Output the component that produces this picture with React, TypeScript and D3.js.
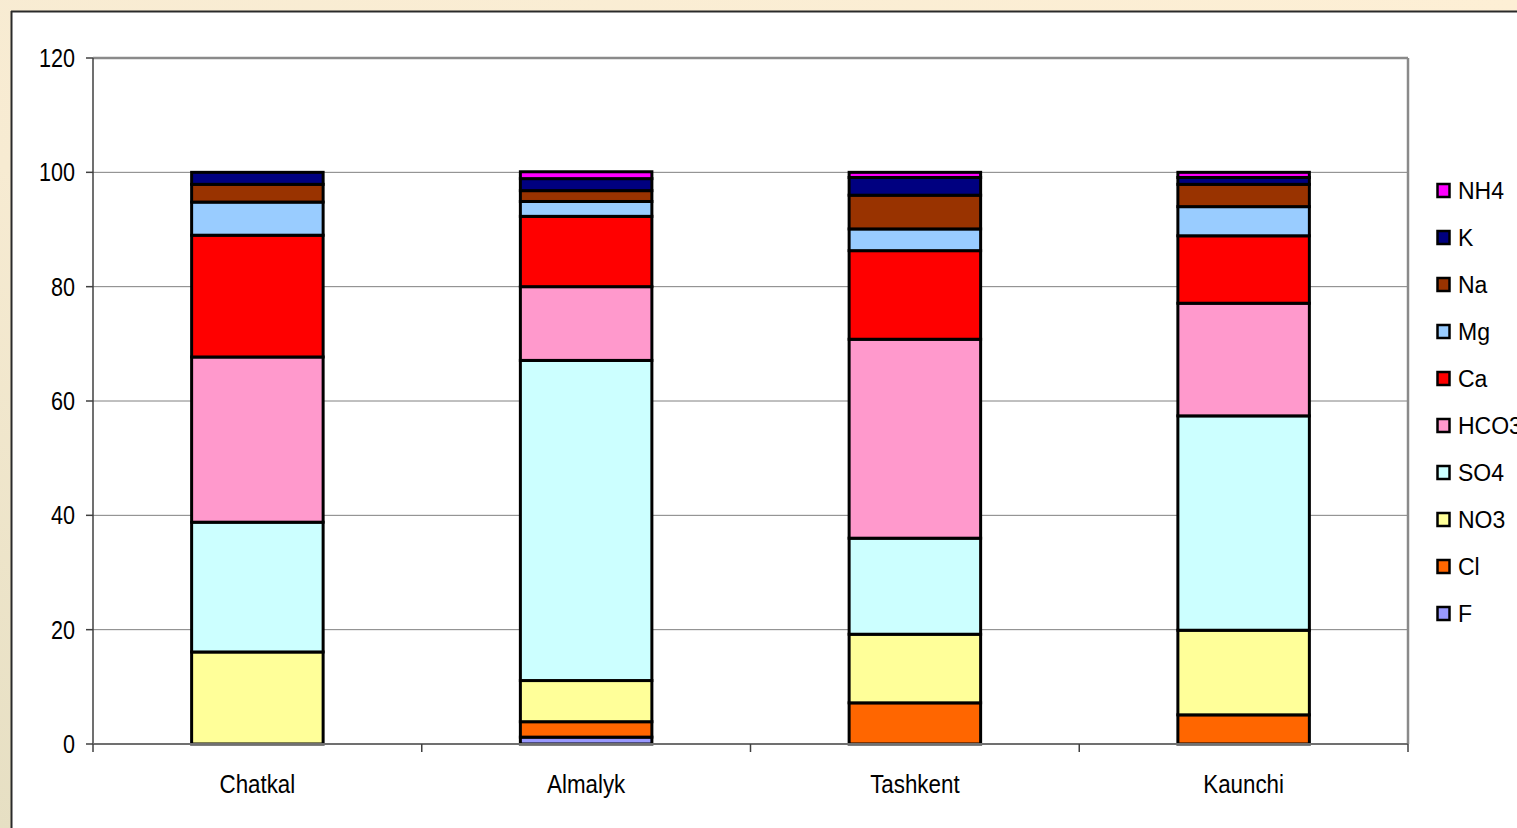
import React from "react";
import * as d3 from "d3";

const sites = ["Chatkal", "Almalyk", "Tashkent", "Kaunchi"];
// stack order bottom -> top
const ions = ["F", "Cl", "NO3", "SO4", "HCO3", "Ca", "Mg", "Na", "K", "NH4"];
const ionColors = ["#9999FF", "#FF6600", "#FFFF99", "#CCFFFF", "#FF99CC", "#FF0000", "#99CCFF", "#993300", "#000080", "#FF00FF"];

const F = [0, 1.2, 0, 0];
const Cl = [0, 2.7, 7.2, 5.1];
const NO3 = [16.1, 7.2, 12.0, 14.8];
const SO4 = [22.7, 56.0, 16.8, 37.5];
const HCO3 = [28.9, 12.9, 34.8, 19.7];
const Ca = [21.3, 12.3, 15.5, 11.8];
const Mg = [5.8, 2.6, 3.8, 5.1];
const Na = [3.1, 1.9, 5.9, 3.9];
const K = [2.1, 2.1, 3.1, 1.2];
const NH4 = [0, 1.2, 0.9, 0.9];
const yTicks = [0, 20, 40, 60, 80, 100, 120];

const seriesValues = [F, Cl, NO3, SO4, HCO3, Ca, Mg, Na, K, NH4];

const W = 1517;
const H = 828;
const left = 93, right = 1408, top = 58, bottom = 744;
const font = "'Liberation Sans', Arial, sans-serif";

export default function App() {
  const rows = sites.map((s, i) => {
    const r: any = { site: s };
    ions.forEach((ion, k) => (r[ion] = seriesValues[k][i]));
    return r;
  });
  const stack = d3.stack().keys(ions)(rows);

  const x = d3.scaleBand().domain(sites).range([left, right]).paddingInner(0).paddingOuter(0);
  const y = d3.scaleLinear().domain([0, 120]).range([bottom, top]);
  const barW = x.bandwidth() * 0.4;
  const edges = d3.range(sites.length + 1).map((i) => left + i * x.bandwidth());

  return (
    <svg width={W} height={H} style={{ position: "fixed", left: 0, top: 0 }} fontFamily={font}>
      <defs>
        <linearGradient id="bg" x1="1" y1="0" x2="0" y2="1">
          <stop offset="0" stopColor="#FDEFD5" />
          <stop offset="0.6" stopColor="#F7EBD2" />
          <stop offset="1" stopColor="#E6DFC3" />
        </linearGradient>
      </defs>
      <rect x={0} y={0} width={W} height={H} fill="url(#bg)" />
      <rect x={12} y={12} width={W} height={H} fill="#fff" />
      <line x1={11.5} y1={11} x2={11.5} y2={H} stroke="#2a2a2a" strokeWidth={2} />
      <line x1={11} y1={11.5} x2={W} y2={11.5} stroke="#2a2a2a" strokeWidth={2} />

      {/* gridlines */}
      {yTicks.filter((t) => t > 0).map((t) => (
        <line key={t} x1={left} x2={right} y1={y(t)} y2={y(t)} stroke="#808080" strokeWidth={1} />
      ))}
      {/* plot border */}
      <line x1={right} x2={right} y1={top} y2={bottom} stroke="#8a8a8a" strokeWidth={2.5} />
      <line x1={left} x2={right} y1={top} y2={top} stroke="#8a8a8a" strokeWidth={2.5} />

      {/* bars */}
      {stack.map((layer, k) =>
        layer.map((d, i) => {
          const h = y(d[0]) - y(d[1]);
          if (h <= 0) return null;
          const cx = x(sites[i])! + x.bandwidth() / 2;
          return (
            <rect key={`${k}-${i}`} x={cx - barW / 2} y={y(d[1])} width={barW} height={h}
              fill={ionColors[k]} stroke="#000" strokeWidth={3} />
          );
        })
      )}

      {/* axes */}
      <line x1={left} x2={left} y1={top} y2={bottom} stroke="#404040" strokeWidth={1.5} />
      <line x1={left} x2={right} y1={bottom} y2={bottom} stroke="#707070" strokeWidth={2} />
      {yTicks.map((t) => (
        <g key={t}>
          <line x1={left - 7} x2={left} y1={y(t)} y2={y(t)} stroke="#404040" strokeWidth={1.5} />
          <text transform={`translate(75,${y(t)}) scale(0.83,1)`} dy="0.35em" textAnchor="end" fontSize={26} fill="#000">{t}</text>
        </g>
      ))}
      {edges.map((e, i) => (
        <line key={i} x1={e} x2={e} y1={bottom} y2={bottom + 8} stroke="#404040" strokeWidth={1.5} />
      ))}
      {sites.map((s) => (
        <text key={s} transform={`translate(${x(s)! + x.bandwidth() / 2},784) scale(0.86,1)`} dy="0.35em" textAnchor="middle" fontSize={26} fill="#000">{s}</text>
      ))}

      {/* legend */}
      {ions.slice().reverse().map((ion, j) => {
        const k = ions.length - 1 - j;
        const cy = 190.5 + j * 47;
        return (
          <g key={ion}>
            <rect x={1437.5} y={cy - 6.5} width={12} height={13} fill={ionColors[k]} stroke="#000" strokeWidth={2.5} />
            <text x={1458} y={cy} dy="0.35em" fontSize={23} fill="#000">{ion}</text>
          </g>
        );
      })}
    </svg>
  );
}
